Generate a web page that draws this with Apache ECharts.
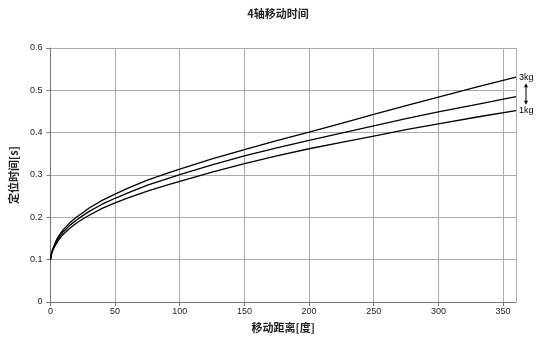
<!DOCTYPE html>
<html><head><meta charset="utf-8">
<script src="https://cdn.jsdelivr.net/npm/echarts@6/dist/echarts.min.js"></script>
<style>html,body{margin:0;padding:0;background:#fff}#c{width:556px;height:348px}</style>
</head><body><div id="c"></div>
<script>
const distances = [0, 1, 2, 4, 6, 8, 10, 15, 20, 25, 30, 40, 50, 60, 75, 90, 100, 125, 150, 175, 200, 225, 250, 275, 300, 330, 360];
const time3kg = [0.1, 0.118, 0.127, 0.142, 0.154, 0.163, 0.171, 0.187, 0.2, 0.211, 0.222, 0.24, 0.255, 0.269, 0.288, 0.304, 0.314, 0.338, 0.36, 0.381, 0.401, 0.422, 0.443, 0.464, 0.484, 0.508, 0.531];
const time2kg = [0.1, 0.116, 0.125, 0.139, 0.15, 0.158, 0.166, 0.181, 0.193, 0.204, 0.214, 0.231, 0.245, 0.258, 0.276, 0.291, 0.301, 0.324, 0.345, 0.364, 0.382, 0.399, 0.416, 0.433, 0.449, 0.467, 0.485];
const time1kg = [0.1, 0.115, 0.123, 0.135, 0.145, 0.153, 0.16, 0.174, 0.186, 0.196, 0.205, 0.221, 0.234, 0.246, 0.262, 0.276, 0.285, 0.307, 0.327, 0.345, 0.362, 0.377, 0.392, 0.407, 0.421, 0.437, 0.452];
const titleText = '4轴移动时间';
const xName = '移动距离[度]';
const yName = '定位时间[s]';
const endLabels = ['3kg', '', '1kg'];

const FONT = '"Noto Sans CJK SC", "Liberation Sans", sans-serif';
const NUMFONT = '"Liberation Sans", Arial, sans-serif';
const chart = echarts.init(document.getElementById('c'));
function mk(vals, lbl) {
  return {
    type: 'line',
    data: distances.map((d, i) => [d, vals[i]]),
    showSymbol: false,
    smooth: false,
    lineStyle: { color: '#000', width: 1.3 },
    silent: true,
    endLabel: lbl ? { show: true, formatter: lbl, color: '#000', fontSize: 9, fontFamily: NUMFONT, distance: 3 } : { show: false }
  };
}
chart.setOption({
  animation: false,
  title: { text: titleText, left: 'center', top: 3, textStyle: { fontSize: 11, fontWeight: 'bold', color: '#222', fontFamily: FONT } },
  grid: { left: 50, right: 40, top: 48, bottom: 46 },
  xAxis: {
    type: 'value', min: 0, max: 360, interval: 50,
    name: xName, nameLocation: 'middle', nameGap: 20,
    nameTextStyle: { fontSize: 11, fontWeight: 'bold', color: '#222', fontFamily: FONT },
    axisLine: { lineStyle: { color: '#777' } },
    axisTick: { show: true, length: 4, lineStyle: { color: '#777' } },
    axisLabel: { fontSize: 9, color: '#222', margin: 5, fontFamily: NUMFONT, showMaxLabel: false },
    splitLine: { show: true, lineStyle: { color: '#aaa', width: 1 } }
  },
  yAxis: {
    type: 'value', min: 0, max: 0.6, interval: 0.1,
    name: yName, nameLocation: 'middle', nameGap: 30, nameRotate: 90,
    nameTextStyle: { fontSize: 11, fontWeight: 'bold', color: '#222', fontFamily: FONT },
    axisLine: { show: true, lineStyle: { color: '#777' } },
    axisTick: { show: true, length: 4, lineStyle: { color: '#777' } },
    axisLabel: { fontSize: 9, color: '#222', margin: 8, fontFamily: NUMFONT, formatter: v => String(+v.toFixed(1)) },
    splitLine: { show: true, lineStyle: { color: '#aaa', width: 1 } }
  },
  series: [mk(time3kg, endLabels[0]), mk(time2kg, endLabels[1]), mk(time1kg, endLabels[2])]
});
const p3 = chart.convertToPixel({ gridIndex: 0 }, [360, time3kg[time3kg.length - 1]]);
const p1 = chart.convertToPixel({ gridIndex: 0 }, [360, time1kg[time1kg.length - 1]]);
const ax = p3[0] + 10, yTop = p3[1] + 6, yBot = p1[1] - 6;
chart.setOption({
  graphic: [
    { type: 'line', shape: { x1: ax, y1: yTop + 3, x2: ax, y2: yBot - 3 }, style: { stroke: '#000', lineWidth: 1 } },
    { type: 'polygon', shape: { points: [[ax, yTop], [ax - 2, yTop + 4], [ax + 2, yTop + 4]] }, style: { fill: '#000' } },
    { type: 'polygon', shape: { points: [[ax, yBot], [ax - 2, yBot - 4], [ax + 2, yBot - 4]] }, style: { fill: '#000' } }
  ]
});
</script></body></html>
